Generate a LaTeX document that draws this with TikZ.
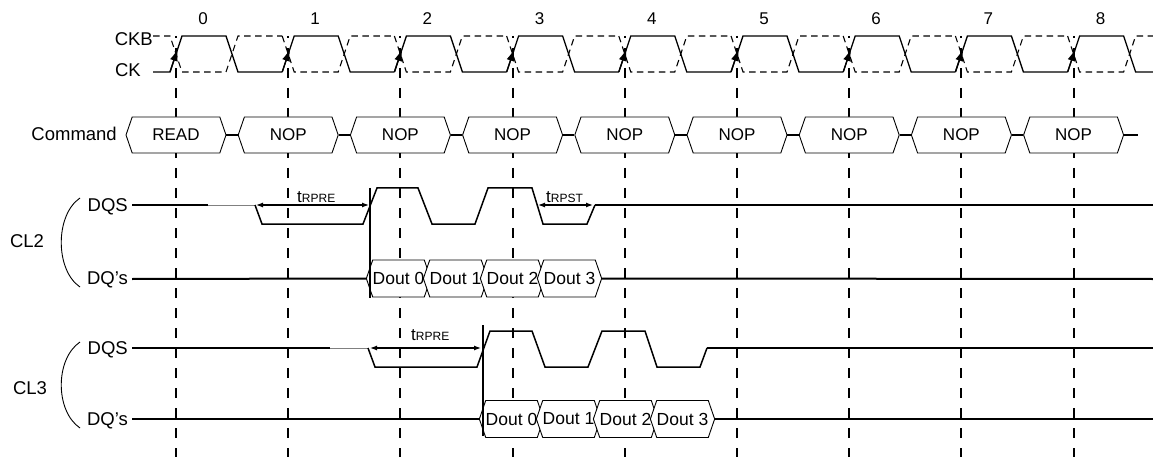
\documentclass[tikz,border=0pt]{standalone}
\usepackage{fontspec}
\setmainfont{Liberation Sans}
\usetikzlibrary{arrows.meta,shapes.symbols}

\tikzset{
  ck/.style={line width=1.3pt},
  ckb/.style={line width=1.1pt, dash pattern=on 6.5pt off 4.5pt},
  ckarrow/.style={line width=1.3pt, -{Latex[length=12pt,width=8pt]}},
  tick/.style={line width=2pt, dash pattern=on 10pt off 10pt, dash phase=8pt},
  bus/.style={draw, fill=white, line width=0.9pt, shape=signal, signal to=east and west,
    signal pointer angle=142, inner sep=0pt, minimum height=36pt},
  cmd/.style={bus, minimum width=100pt, font=\fontsize{17}{19}\selectfont},
  dout/.style={bus, minimum width=57pt, minimum height=37pt, font=\fontsize{17.5}{19}\selectfont},
  wire/.style={line width=2pt},
  wave/.style={line width=1.5pt},
  hiz/.style={line width=1pt, gray},
  tarrow/.style={line width=1.2pt, {Latex[length=7pt,width=5pt]}-{Latex[length=7pt,width=5pt]}},
  sig/.style={anchor=base east, font=\fontsize{18.5}{20}\selectfont},
}

\begin{document}
\begin{tikzpicture}[x=1pt,y=-1pt,inner sep=0pt,font=\fontsize{17}{19}\selectfont]
\useasboundingbox (0,0) rectangle (1153,457);

% clock edges
\draw [tick] (176,36) -- (176,457);
\draw [tick] (288.2,36) -- (288.2,457);
\draw [tick] (400.4,36) -- (400.4,457);
\draw [tick] (512.6,36) -- (512.6,457);
\draw [tick] (624.8,36) -- (624.8,457);
\draw [tick] (737,36) -- (737,457);
\draw [tick] (849.2,36) -- (849.2,457);
\draw [tick] (961.4,36) -- (961.4,457);
\draw [tick] (1073.6,36) -- (1073.6,457);

\node (c0) at (203,25) [anchor=base] {0};
\node (c1) at (315.2,25) [anchor=base] {1};
\node (c2) at (427.4,25) [anchor=base] {2};
\node (c3) at (539.6,25) [anchor=base] {3};
\node (c4) at (651.8,25) [anchor=base] {4};
\node (c5) at (764,25) [anchor=base] {5};
\node (c6) at (876.2,25) [anchor=base] {6};
\node (c7) at (988.4,25) [anchor=base] {7};
\node (c8) at (1100.6,25) [anchor=base] {8};

% CKB / CK
\node [sig] (ckb) at (153,46) {CKB};
\node [sig] (ck) at (141,77) {CK};

\draw [ckb] (153,36) -- (170,36) -- (182,72) -- (226,72) -- (238,36) -- (282.2,36);
\draw [ckb] (282.2,36) -- (294.2,72) -- (338.2,72) -- (350.2,36) -- (394.4,36);
\draw [ckb] (394.4,36) -- (406.4,72) -- (450.4,72) -- (462.4,36) -- (506.6,36);
\draw [ckb] (506.6,36) -- (518.6,72) -- (562.6,72) -- (574.6,36) -- (618.8,36);
\draw [ckb] (618.8,36) -- (630.8,72) -- (674.8,72) -- (686.8,36) -- (731,36);
\draw [ckb] (731,36) -- (743,72) -- (787,72) -- (799,36) -- (843.2,36);
\draw [ckb] (843.2,36) -- (855.2,72) -- (899.2,72) -- (911.2,36) -- (955.4,36);
\draw [ckb] (955.4,36) -- (967.4,72) -- (1011.4,72) -- (1023.4,36) -- (1067.6,36);
\draw [ckb] (1067.6,36) -- (1079.6,72) -- (1123.6,72) -- (1135.6,36) -- (1153,36);

\draw [ck] (153,72) -- (170,72) -- (182,36) -- (226,36) -- (238,72) -- (282.2,72);
\draw [ck] (282.2,72) -- (294.2,36) -- (338.2,36) -- (350.2,72) -- (394.4,72);
\draw [ck] (394.4,72) -- (406.4,36) -- (450.4,36) -- (462.4,72) -- (506.6,72);
\draw [ck] (506.6,72) -- (518.6,36) -- (562.6,36) -- (574.6,72) -- (618.8,72);
\draw [ck] (618.8,72) -- (630.8,36) -- (674.8,36) -- (686.8,72) -- (731,72);
\draw [ck] (731,72) -- (743,36) -- (787,36) -- (799,72) -- (843.2,72);
\draw [ck] (843.2,72) -- (855.2,36) -- (899.2,36) -- (911.2,72) -- (955.4,72);
\draw [ck] (955.4,72) -- (967.4,36) -- (1011.4,36) -- (1023.4,72) -- (1067.6,72);
\draw [ck] (1067.6,72) -- (1079.6,36) -- (1123.6,36) -- (1135.6,72) -- (1153,72);

\draw [ckarrow] (170,72) -- (177.7,49);
\draw [ckarrow] (282.2,72) -- (289.9,49);
\draw [ckarrow] (394.4,72) -- (402.1,49);
\draw [ckarrow] (506.6,72) -- (514.3,49);
\draw [ckarrow] (618.8,72) -- (626.5,49);
\draw [ckarrow] (731,72) -- (738.7,49);
\draw [ckarrow] (843.2,72) -- (850.9,49);
\draw [ckarrow] (955.4,72) -- (963.1,49);
\draw [ckarrow] (1067.6,72) -- (1075.3,49);

% command bus
\node [sig] (command) at (117,141) {Command};
\node [cmd] (read) at (176,135) {READ};
\node [cmd] (nop1) at (288.2,135) {NOP};
\node [cmd] (nop2) at (400.4,135) {NOP};
\node [cmd] (nop3) at (512.6,135) {NOP};
\node [cmd] (nop4) at (624.8,135) {NOP};
\node [cmd] (nop5) at (737,135) {NOP};
\node [cmd] (nop6) at (849.2,135) {NOP};
\node [cmd] (nop7) at (961.4,135) {NOP};
\node [cmd] (nop8) at (1073.6,135) {NOP};
\coordinate (cmdend) at (1138,135);

\draw [wire] (read.east) -- (nop1.west);
\draw [wire] (nop1.east) -- (nop2.west);
\draw [wire] (nop2.east) -- (nop3.west);
\draw [wire] (nop3.east) -- (nop4.west);
\draw [wire] (nop4.east) -- (nop5.west);
\draw [wire] (nop5.east) -- (nop6.west);
\draw [wire] (nop6.east) -- (nop7.west);
\draw [wire] (nop7.east) -- (nop8.west);
\draw [wire] (nop8.east) -- (cmdend);

% CL2
\node [font=\fontsize{18.5}{20}\selectfont] (cl2) at (27,247) [anchor=base] {CL2};
\draw [line width=0.9pt] (80,198) .. controls (55,215) and (55,270) .. (80,287);
\node [sig] (dqs2) at (128,211.5) {DQS};
\node [sig] (dq2) at (128,284.5) {DQ’s};

\draw [wire] (132,205) -- (208,205);
\draw [hiz] (208,205) -- (255,205);
\draw [wave] (255,205) -- (262,224) -- (363,224) -- (377,188) -- (418,188) -- (432,224)
  -- (475,224) -- (488,188) -- (532,188) -- (543,224) -- (587,224) -- (595,205);
\draw [wire] (595,205) -- (1153,205);
\draw [tarrow] (256,205) -- (369,205);
\node (rpre2) at (297,203) [anchor=base west] {t{\fontsize{12}{12}\selectfont RPRE}};
\draw [tarrow] (538,205) -- (593,205);
\node (rpst2) at (546,203) [anchor=base west] {t{\fontsize{12}{12}\selectfont RPST}};

\node [dout] (d20) at (398.5,278.5) {Dout 0};
\node [dout] (d21) at (455.5,278.5) {Dout 1};
\node [dout] (d22) at (512.5,278.5) {Dout 2};
\node [dout] (d23) at (569.5,278.5) {Dout 3};
\draw [wire] (132,279) -- (d20.west);
\draw [wire] (d23.east) -- (1153,279);
\draw [wave] (370,188) -- (370,298);

% CL3
\node [font=\fontsize{18.5}{20}\selectfont] (cl3) at (30,394) [anchor=base] {CL3};
\draw [line width=0.9pt] (80,342) .. controls (55,359) and (55,411) .. (80,428);
\node [sig] (dqs3) at (128,354) {DQS};
\node [sig] (dq3) at (128,425.5) {DQ’s};

\draw [wire] (132,348) -- (330,348);
\draw [hiz] (330,348) -- (368,348);
\draw [wave] (368,348) -- (375,367) -- (477,367) -- (490,331) -- (532,331) -- (545,367)
  -- (588,367) -- (602,331) -- (645,331) -- (657,367) -- (700,367) -- (707,348);
\draw [wire] (707,348) -- (1153,348);
\draw [tarrow] (370,348) -- (481,348);
\node (rpre3) at (411,340) [anchor=base west] {t{\fontsize{12}{12}\selectfont RPRE}};

\node [dout] (d30) at (511.5,419) {Dout 0};
\node [dout] (d31) at (568.5,419) {Dout 1};
\node [dout] (d32) at (625.5,419) {Dout 2};
\node [dout] (d33) at (682.5,419) {Dout 3};
\draw [wire] (132,419) -- (d30.west);
\draw [wire] (d33.east) -- (1153,419);
\draw [wave] (483,325) -- (483,436);

\end{tikzpicture}
\end{document}
